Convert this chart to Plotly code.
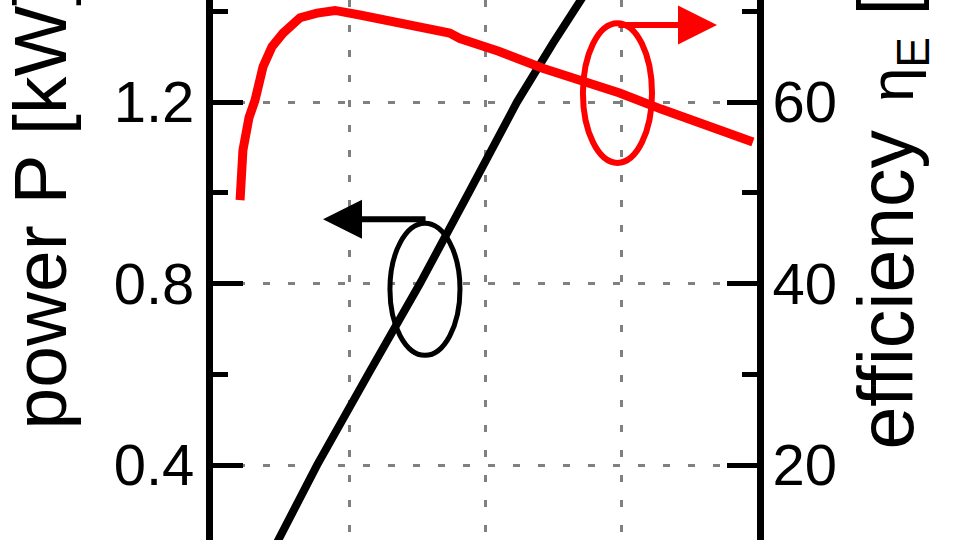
import plotly.graph_objects as go

# operating point (x in grid units) and measured output power P [kW]
power_x = [0.42, 0.478, 0.765, 1.15, 1.522, 1.88, 2.235, 2.50, 2.70, 2.78]
power_kw = [0.20, 0.235, 0.40, 0.605, 0.80, 1.00, 1.20, 1.33, 1.425, 1.46]

# efficiency eta_E [%]
eff_x = [0.199, 0.22, 0.265, 0.309, 0.368, 0.434, 0.515, 0.64, 0.765, 0.897,
         1.08, 1.32, 1.55, 1.74, 1.816, 2.10, 2.43, 2.70, 2.99, 3.30, 3.62, 3.97]
eff_pct = [49.2, 54.7, 58.3, 60.2, 63.9, 66.1, 67.6, 69.3, 69.8, 70.1,
           69.6, 68.8, 68.2, 67.6, 67.0, 65.6, 63.7, 62.5, 61.0, 59.2, 57.5, 55.6]

p_ticks = [0.4, 0.8, 1.2]
eff_ticks = [20, 40, 60]

FONT = "Liberation Sans, Arial, sans-serif"
GRID = "#808080"

fig = go.Figure()

fig.add_trace(go.Scatter(x=power_x, y=power_kw, mode="lines",
                         line=dict(color="black", width=8), yaxis="y"))
fig.add_trace(go.Scatter(x=eff_x, y=eff_pct, mode="lines",
                         line=dict(color="#ff0000", width=9), yaxis="y2"))

fig.update_layout(
    width=960, height=540,
    margin=dict(l=213, r=203, t=0, b=0),
    paper_bgcolor="white", plot_bgcolor="white",
    showlegend=False,
    font=dict(family=FONT, color="black"),
    xaxis=dict(range=[0, 4], dtick=1, tick0=0, showticklabels=False, ticks="",
               showgrid=True, gridcolor=GRID, gridwidth=3, griddash="7px,18px",
               zeroline=False, showline=False),
    yaxis=dict(range=[0.235, 1.425], tickvals=p_ticks, ticktext=["0.4", "0.8", "1.2"],
               ticks="inside", ticklen=30, tickwidth=5, tickcolor="black",
               tickfont=dict(size=58, family=FONT), ticklabelstandoff=0,
               minor=dict(tickvals=[0.2, 0.6, 1.0, 1.4], ticks="inside", ticklen=15,
                          tickwidth=5, tickcolor="black", showgrid=False),
               showgrid=True, gridcolor=GRID, gridwidth=3, griddash="7px,18px",
               zeroline=False, showline=True, linecolor="black", linewidth=7),
    yaxis2=dict(range=[11.75, 71.25], overlaying="y", side="right",
                tickvals=eff_ticks, ticks="inside", ticklen=30, tickwidth=5,
                tickcolor="black", tickfont=dict(size=58, family=FONT),
                ticklabelstandoff=-3,
                minor=dict(tickvals=[10, 30, 50, 70], ticks="inside", ticklen=15,
                           tickwidth=5, tickcolor="black", showgrid=False),
                showgrid=False, zeroline=False, showline=True,
                linecolor="black", linewidth=7),
)

# axis titles
fig.add_annotation(text="power P [kW]", xref="paper", yref="paper",
                   x=(39 - 213) / 544, y=1 - 432 / 540, xanchor="center", yanchor="bottom",
                   textangle=-90, showarrow=False, font=dict(size=75, family=FONT))
fig.add_annotation(text='efficiency<span style="font-size:100px"> </span>'
                        '<span style="font-size:62px">η</span>'
                        '<sub><span style="font-size:46px">E</span></sub> [%]',
                   xref="paper", yref="paper",
                   x=(880 - 213) / 544, y=1 - 452 / 540, xanchor="center", yanchor="bottom",
                   textangle=-90, showarrow=False, font=dict(size=77, family=FONT))

# ellipses marking which curve belongs to which axis
fig.add_shape(type="circle", xref="x", yref="y", x0=1.301, x1=1.816, y0=0.642, y1=0.933,
              line=dict(color="black", width=5))
fig.add_shape(type="circle", xref="x", yref="y2", x0=2.72, x1=3.228, y0=53.3, y1=68.7,
              line=dict(color="#ff0000", width=6))

fig.add_annotation(x=0.809, y=0.942, ax=1.574, ay=0.942, xref="x", yref="y",
                   axref="x", ayref="y", text="", showarrow=True,
                   arrowhead=2, arrowsize=1.3, arrowwidth=6, arrowcolor="black")
fig.add_annotation(x=3.706, y=68.5, ax=2.97, ay=68.5, xref="x", yref="y2",
                   axref="x", ayref="y2", text="", showarrow=True,
                   arrowhead=2, arrowsize=1.3, arrowwidth=6, arrowcolor="#ff0000")

fig.write_html("out.html", config={"displayModeBar": False},
               post_script="document.body.style.margin='0';")
